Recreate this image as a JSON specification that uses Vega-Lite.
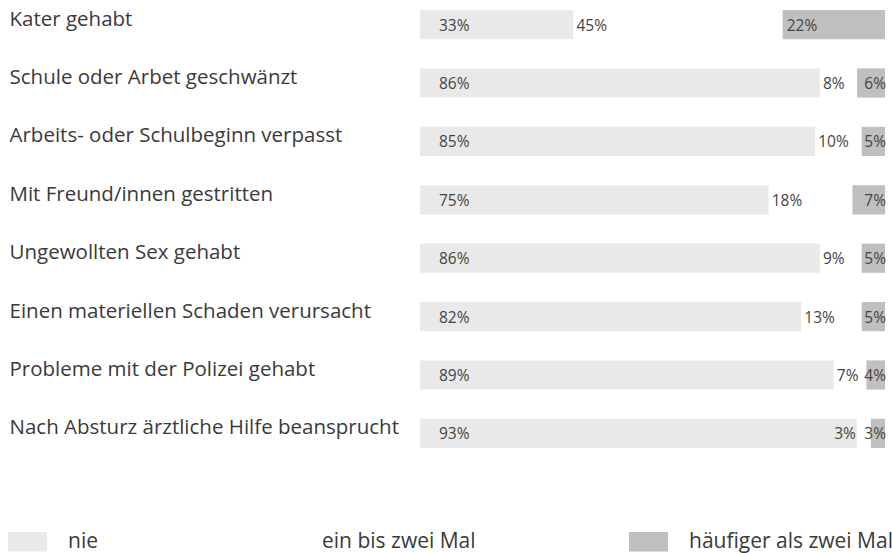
{
  "$schema": "https://vega.github.io/schema/vega-lite/v6.json",
  "autosize": {"type": "none"},
  "width": 465,
  "height": 438,
  "padding": {"left": 420, "top": 10, "right": 7, "bottom": 105},
  "background": "white",
  "config": {"view": {"stroke": null}, "font": "Open Sans"},
  "data": {
    "values": [
      {"item": "Kater gehabt", "cat": "nie", "order": 1, "value": 33},
      {"item": "Kater gehabt", "cat": "ein bis zwei Mal", "order": 2, "value": 45},
      {"item": "Kater gehabt", "cat": "häufiger als zwei Mal", "order": 3, "value": 22},
      {"item": "Schule oder Arbet geschwänzt", "cat": "nie", "order": 1, "value": 86},
      {"item": "Schule oder Arbet geschwänzt", "cat": "ein bis zwei Mal", "order": 2, "value": 8},
      {"item": "Schule oder Arbet geschwänzt", "cat": "häufiger als zwei Mal", "order": 3, "value": 6},
      {"item": "Arbeits- oder Schulbeginn verpasst", "cat": "nie", "order": 1, "value": 85},
      {"item": "Arbeits- oder Schulbeginn verpasst", "cat": "ein bis zwei Mal", "order": 2, "value": 10},
      {"item": "Arbeits- oder Schulbeginn verpasst", "cat": "häufiger als zwei Mal", "order": 3, "value": 5},
      {"item": "Mit Freund/innen gestritten", "cat": "nie", "order": 1, "value": 75},
      {"item": "Mit Freund/innen gestritten", "cat": "ein bis zwei Mal", "order": 2, "value": 18},
      {"item": "Mit Freund/innen gestritten", "cat": "häufiger als zwei Mal", "order": 3, "value": 7},
      {"item": "Ungewollten Sex gehabt", "cat": "nie", "order": 1, "value": 86},
      {"item": "Ungewollten Sex gehabt", "cat": "ein bis zwei Mal", "order": 2, "value": 9},
      {"item": "Ungewollten Sex gehabt", "cat": "häufiger als zwei Mal", "order": 3, "value": 5},
      {"item": "Einen materiellen Schaden verursacht", "cat": "nie", "order": 1, "value": 82},
      {"item": "Einen materiellen Schaden verursacht", "cat": "ein bis zwei Mal", "order": 2, "value": 13},
      {"item": "Einen materiellen Schaden verursacht", "cat": "häufiger als zwei Mal", "order": 3, "value": 5},
      {"item": "Probleme mit der Polizei gehabt", "cat": "nie", "order": 1, "value": 89},
      {"item": "Probleme mit der Polizei gehabt", "cat": "ein bis zwei Mal", "order": 2, "value": 7},
      {"item": "Probleme mit der Polizei gehabt", "cat": "häufiger als zwei Mal", "order": 3, "value": 4},
      {"item": "Nach Absturz ärztliche Hilfe beansprucht", "cat": "nie", "order": 1, "value": 93},
      {"item": "Nach Absturz ärztliche Hilfe beansprucht", "cat": "ein bis zwei Mal", "order": 2, "value": 3},
      {"item": "Nach Absturz ärztliche Hilfe beansprucht", "cat": "häufiger als zwei Mal", "order": 3, "value": 3}
    ]
  },
  "transform": [
    {"stack": "value", "groupby": ["item"], "sort": [{"field": "order"}], "offset": "normalize", "as": ["x0", "x1"]},
    {"calculate": "datum.value + '%'", "as": "label"}
  ],
  "encoding": {
    "y": {
      "field": "item", "type": "nominal", "sort": null, "title": null,
      "scale": {"paddingInner": 0.5, "paddingOuter": 0},
      "axis": {"domain": false, "ticks": false, "tickSize": 0, "labelAlign": "left", "labelPadding": 411, "labelOffset": -5, "labelFontSize": 20.5, "labelColor": "#3a3a3a", "labelFont": "Open Sans", "labelLimit": 0}
    }
  },
  "layer": [
    {
      "mark": {"type": "bar"},
      "encoding": {
        "x": {"field": "x0", "type": "quantitative", "scale": {"domain": [0, 1]}, "axis": null},
        "x2": {"field": "x1"},
        "color": {
          "field": "cat", "type": "nominal", "title": null,
          "scale": {"domain": ["nie", "ein bis zwei Mal", "häufiger als zwei Mal"], "range": ["#e9e9e9", "#ffffff", "#bfbfbf"]},
          "legend": {
            "orient": "none", "legendX": -412, "legendY": 512, "direction": "horizontal", "columns": 3,
            "symbolType": "M-1,-0.5L1,-0.5L1,0.5L-1,0.5Z", "symbolSize": 1521, "symbolStrokeWidth": 0,
            "labelFontSize": 21, "labelColor": "#3a3a3a", "labelOffset": 21, "labelFont": "Open Sans", "labelLimit": 0,
            "columnPadding": 0,
            "labelExpr": "datum.label == 'nie' ? 'nie                              \u200b' : datum.label == 'ein bis zwei Mal' ? 'ein bis zwei Mal                            \u200b' : datum.label"
          }
        }
      }
    },
    {
      "transform": [{"filter": "datum.cat == 'nie'"}],
      "mark": {"type": "text", "align": "left", "dx": 19, "dy": 1, "fontSize": 15.5, "color": "#444444"},
      "encoding": {"x": {"field": "x0", "type": "quantitative"}, "text": {"field": "label"}}
    },
    {
      "transform": [{"filter": "datum.cat == 'ein bis zwei Mal' && datum.value >= 5"}],
      "mark": {"type": "text", "align": "left", "dx": 3, "dy": 1, "fontSize": 15.5, "color": "#444444"},
      "encoding": {"x": {"field": "x0", "type": "quantitative"}, "text": {"field": "label"}}
    },
    {
      "transform": [{"filter": "datum.cat == 'ein bis zwei Mal' && datum.value < 5"}],
      "mark": {"type": "text", "align": "right", "dx": -1, "dy": 1, "fontSize": 15.5, "color": "#444444"},
      "encoding": {"x": {"field": "x0", "type": "quantitative"}, "text": {"field": "label"}}
    },
    {
      "transform": [{"filter": "datum.cat == 'häufiger als zwei Mal' && datum.value >= 10"}],
      "mark": {"type": "text", "align": "left", "dx": 4, "dy": 1, "fontSize": 15.5, "color": "#444444"},
      "encoding": {"x": {"field": "x0", "type": "quantitative"}, "text": {"field": "label"}}
    },
    {
      "transform": [{"filter": "datum.cat == 'häufiger als zwei Mal' && datum.value < 10"}],
      "mark": {"type": "text", "align": "right", "dx": 1, "dy": 1, "fontSize": 15.5, "color": "#444444"},
      "encoding": {"x": {"field": "x1", "type": "quantitative"}, "text": {"field": "label"}}
    }
  ]
}
